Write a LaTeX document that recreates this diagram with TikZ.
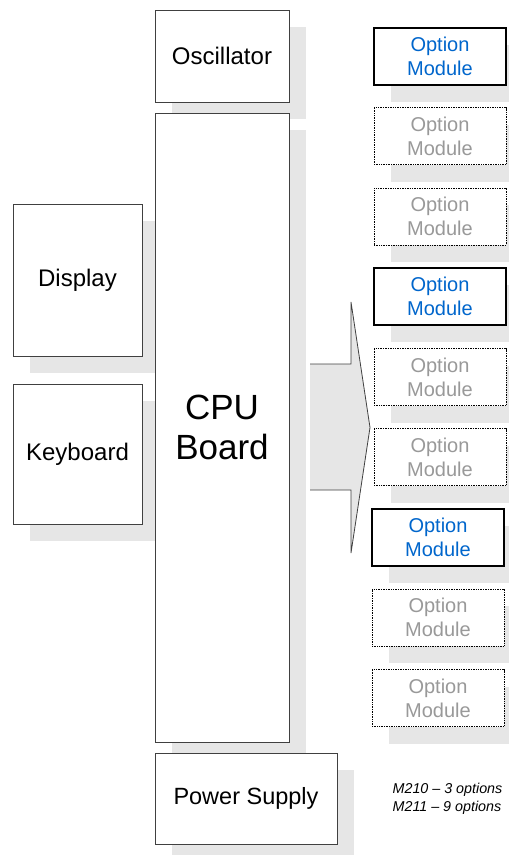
\documentclass[tikz,border=0pt]{standalone}
\usepackage{fontspec}
\setmainfont{Liberation Sans}
\usetikzlibrary{shadows}

\definecolor{optblue}{HTML}{0066CC}
\definecolor{optgray}{HTML}{999999}
\definecolor{shadowgray}{HTML}{E6E6E6}

\tikzset{
  unit/.style={draw=black!75, line width=0.8pt, fill=white, inner sep=0pt,
    drop shadow={shadow xshift=17pt, shadow yshift=-17pt, fill=shadowgray, opacity=1}},
  optin/.style={unit, draw=black, line width=2pt, minimum width=132pt, minimum height=57pt,
    align=center, text=optblue, font=\fontsize{20}{24}\selectfont},
  optout/.style={unit, draw=black, line width=1pt, dash pattern=on 1pt off 0.7pt, minimum width=132pt,
    minimum height=57pt, align=center, text=optgray, font=\fontsize{20}{24}\selectfont}
}

\begin{document}
\begin{tikzpicture}[x=1pt,y=-1pt]
    \useasboundingbox (0,0) rectangle (509,855);

    % Nodes for the main units
    \node[unit, minimum width=134pt, minimum height=92pt, font=\fontsize{24}{28}\selectfont] (osc) at (222,56) {Oscillator};
    \node[unit, minimum width=129pt, minimum height=152pt, font=\fontsize{24}{28}\selectfont] (disp) at (77.5,280) {Display};
    \node[unit, minimum width=129pt, minimum height=140pt, font=\fontsize{24}{28}\selectfont] (kbd) at (77.5,454) {Keyboard};
    \node[unit, minimum width=134pt, minimum height=629pt, align=center, font=\fontsize{35}{40}\selectfont] (cpu) at (222,427.5) {CPU\\Board};
    \node[unit, minimum width=182pt, minimum height=91pt, font=\fontsize{23.5}{28}\selectfont] (psu) at (246,798.5) {Power Supply};

    % Arrow from the CPU board to the option slots
    \fill[shadowgray] (310,364) -- (351,364) -- (351,302) -- (370,427.5) -- (351,553) -- (351,490) -- (310,490) -- cycle;
    \draw[black!75, line width=0.8pt] (310,364) -- (351,364) -- (351,302) -- (370,427.5) -- (351,553) -- (351,490) -- (310,490);

    % Nodes for the option modules
    \node[optin] (opt1) at (440,56) {Option\\Module};
    \node[optout] (opt2) at (440,136.25) {Option\\Module};
    \node[optout] (opt3) at (440,216.5) {Option\\Module};
    \node[optin] (opt4) at (440,296.75) {Option\\Module};
    \node[optout] (opt5) at (440,377) {Option\\Module};
    \node[optout] (opt6) at (440,457.25) {Option\\Module};
    \node[optin] (opt7) at (438,537.5) {Option\\Module};
    \node[optout] (opt8) at (438,617.75) {Option\\Module};
    \node[optout] (opt9) at (438,698) {Option\\Module};

    % Model note
    \node[align=left, inner sep=0pt, font=\fontsize{14.3}{18}\selectfont\itshape] (note) at (447.5,799) {M210 -- 3 options\\M211 -- 9 options};
\end{tikzpicture}
\end{document}
